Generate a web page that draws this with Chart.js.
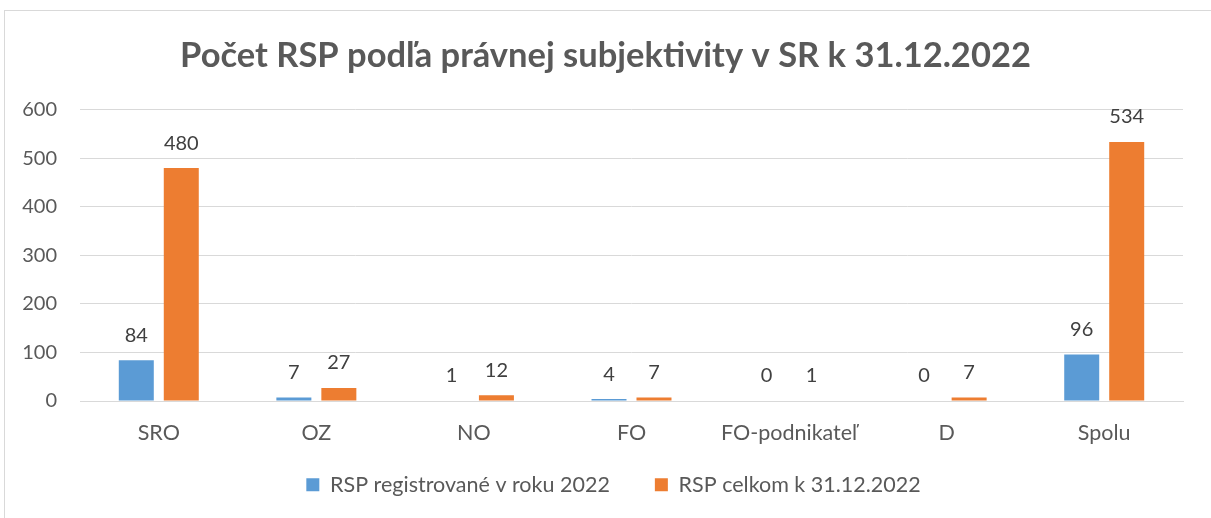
<!DOCTYPE html>
<html>
<head>
<meta charset="utf-8">
<script src="https://cdn.jsdelivr.net/npm/chart.js@4.4.0/dist/chart.umd.min.js"></script>
<style>
html,body{margin:0;padding:0;background:#fff;overflow:hidden;}
#frame{position:absolute;left:4px;top:10px;width:1300px;height:600px;border:1px solid #d9d9d9;}
#wrap{position:absolute;left:0;top:0;width:1211px;height:518px;}
</style>
</head>
<body>
<div id="frame"></div>
<div id="wrap"><canvas id="c" width="1211" height="518"></canvas></div>
<script>
const categories = ['SRO', 'OZ', 'NO', 'FO', 'FO-podnikateľ', 'D', 'Spolu'];
const registered2022 = [84, 7, 1, 4, 0, 0, 96];
const total2022 = [480, 27, 12, 7, 1, 7, 534];
const seriesNames = ['RSP registrované v roku 2022', 'RSP celkom k 31.12.2022'];
const titleText = 'Počet RSP podľa právnej subjektivity v SR k 31.12.2022';

const FONT = 'Lato, "Open Sans", sans-serif';

const valueLabels = {
  id: 'valueLabels',
  afterInit(chart) {
    const lg = chart.legend;
    if (lg) {
      const origFit = lg.fit.bind(lg);
      lg.fit = function () { origFit(); this.height = 67; };
    }
  },
  afterLayout(chart) {
    const lg = chart.legend;
    if (lg) {
      lg.top = 429; lg.bottom = 518; lg.height = 89;
      lg.left += 8; lg.right += 8;
    }
  },
  afterDatasetsDraw(chart) {
    const ctx = chart.ctx;
    ctx.save();
    ctx.font = '20px ' + FONT;
    ctx.fillStyle = '#404040';
    ctx.textAlign = 'center';
    ctx.textBaseline = 'middle';
    chart.data.datasets.forEach((ds, i) => {
      const meta = chart.getDatasetMeta(i);
      meta.data.forEach((bar, j) => {
        ctx.fillText(String(ds.data[j]), bar.x, bar.y - 25);
      });
    });
    ctx.restore();
  }
};

new Chart(document.getElementById('c'), {
  type: 'bar',
  data: {
    labels: categories,
    datasets: [
      { label: seriesNames[0], data: registered2022, backgroundColor: '#5B9BD5', yAxisID: 'y' },
      { label: seriesNames[1], data: total2022, backgroundColor: '#ED7D31', yAxisID: 'y' }
    ]
  },
  options: {
    responsive: false,
    animation: false,
    devicePixelRatio: 1,
    categoryPercentage: 0.571,
    barPercentage: 0.778,
    layout: { padding: { left: 0, right: 0, top: 0, bottom: 0 } },
    plugins: {
      title: {
        display: true,
        text: titleText,
        color: '#595959',
        font: { family: FONT, size: 34.5, weight: 'bold' },
        padding: { top: 35, bottom: 33.5 }
      },
      legend: {
        position: 'bottom',
        labels: {
          color: '#595959',
          font: { family: FONT, size: 21.5 },
          boxWidth: 13,
          boxHeight: 13,
          padding: 45
        }
      },
      tooltip: { enabled: false }
    },
    scales: {
      x: {
        grid: { display: false, drawTicks: false },
        border: { display: true, color: '#d9d9d9', width: 1 },
        ticks: { color: '#595959', font: { family: FONT, size: 21.5 }, padding: 19, maxRotation: 0, autoSkip: false },
        afterFit(s) { s.height = 50; }
      },
      y: {
        min: 0, max: 600,
        ticks: { stepSize: 100, color: '#595959', font: { family: FONT, size: 20 }, padding: 23 },
        grid: { color: '#d9d9d9', lineWidth: 1, drawTicks: false },
        border: { display: false },
        afterFit(s) { s.width = 80; }
      },
      yRight: {
        type: 'linear',
        position: 'right',
        grid: { display: false, drawTicks: false },
        border: { display: false },
        ticks: { display: false },
        afterFit(s) { s.width = 28; }
      }
    }
  },
  plugins: [valueLabels]
});
</script>
</body>
</html>
